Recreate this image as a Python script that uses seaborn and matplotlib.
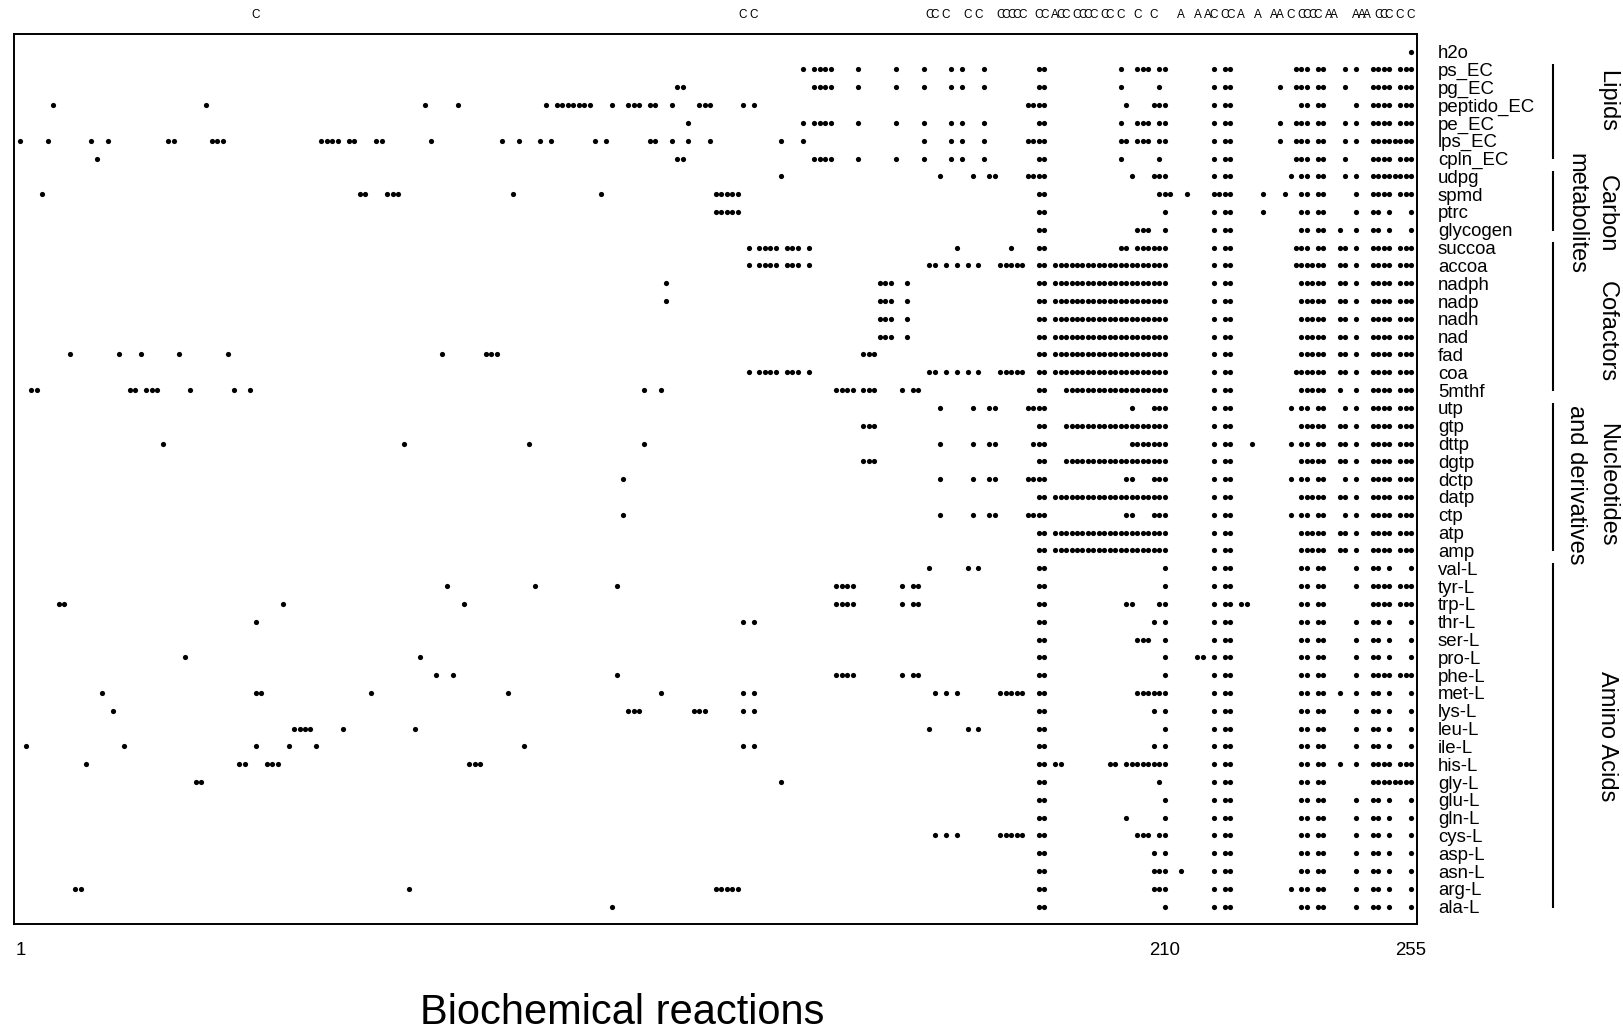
import matplotlib
matplotlib.use("Agg")
import matplotlib.pyplot as plt
import matplotlib.transforms as mtransforms
import seaborn as sns
import pandas as pd

sns.set_theme(style="white")
plt.rcParams['font.family'] = ['Liberation Sans', 'DejaVu Sans']
plt.rcParams['text.color'] = 'black'
plt.rcParams['xtick.color'] = 'black'
plt.rcParams['ytick.color'] = 'black'

# ---------------- data ----------------
metabolites = ["h2o", "ps_EC", "pg_EC", "peptido_EC", "pe_EC", "lps_EC", "cpln_EC",
               "udpg", "spmd", "ptrc", "glycogen", "succoa", "accoa", "nadph", "nadp",
               "nadh", "nad", "fad", "coa", "5mthf", "utp", "gtp", "dttp", "dgtp", "dctp",
               "datp", "ctp", "atp", "amp", "val-L", "tyr-L", "trp-L", "thr-L", "ser-L",
               "pro-L", "phe-L", "met-L", "lys-L", "leu-L", "ile-L", "his-L", "gly-L",
               "glu-L", "gln-L", "cys-L", "asp-L", "asn-L", "arg-L", "ala-L"]

x_tick_values = [1, 210, 255]
x_tick_labels = ["1", "210", "255"]

h2o = [255]
ps_EC = [144, 146, 147, 148, 149, 154, 161, 166, 171, 173, 177, 187, 188, 202, 205, 206, 207, 209, 210,
         219, 221, 222, 234, 235, 236, 238, 239, 243, 245, 248, 249, 250, 251, 253, 254, 255]
pg_EC = [121, 122, 146, 147, 148, 149, 154, 161, 166, 171, 173, 177, 187, 188, 202, 209,
         219, 221, 222, 231, 234, 235, 236, 238, 239, 243, 248, 249, 250, 251, 253, 254, 255]
peptido_EC = [7, 35, 75, 81, 97, 99, 100, 101, 102, 103, 104, 105, 109, 112, 113, 114, 116, 117, 120,
              125, 126, 127, 133, 135, 185, 186, 187, 188, 203, 208, 209, 210,
              219, 221, 222, 235, 236, 238, 239, 245, 248, 249, 250, 251, 253, 254, 255]
pe_EC = [123, 144, 146, 147, 148, 149, 154, 161, 166, 171, 173, 177, 187, 188, 202, 205, 206, 207, 209, 210,
         219, 221, 222, 231, 234, 235, 236, 238, 239, 243, 245, 248, 249, 250, 251, 253, 254, 255]
lps_EC = [1, 6, 14, 17, 28, 29, 36, 37, 38, 56, 57, 58, 59, 61, 62, 66, 67, 76, 89, 92, 96, 98, 106, 108,
          116, 117, 120, 123, 127, 140, 144, 166, 171, 173, 177, 185, 186, 187, 188, 202, 203, 205, 206,
          207, 209, 210, 219, 221, 222, 231, 234, 235, 236, 238, 239, 243, 245,
          248, 249, 250, 251, 252, 253, 254, 255]
cpln_EC = [15, 121, 122, 146, 147, 148, 149, 154, 161, 166, 171, 173, 177, 187, 188, 202, 209,
           219, 221, 222, 234, 235, 236, 238, 239, 243, 248, 249, 250, 251, 253, 254, 255]
udpg = [140, 169, 175, 178, 179, 185, 186, 187, 188, 204, 208, 209, 210, 219, 221, 222, 233, 235, 236,
        238, 239, 243, 245, 248, 249, 250, 251, 252, 253, 254, 255]
spmd = [5, 63, 64, 68, 69, 70, 91, 107, 128, 129, 130, 131, 132, 187, 188, 209, 210, 211, 214,
        219, 220, 221, 222, 228, 232, 235, 236, 238, 239, 245, 248, 249, 250, 251, 253, 254, 255]
ptrc = [128, 129, 130, 131, 132, 187, 188, 210, 219, 221, 222, 228, 235, 236, 238, 239, 245,
        248, 249, 251, 255]
glycogen = [187, 188, 205, 206, 207, 210, 219, 221, 222, 235, 236, 238, 239, 242, 245, 248, 249, 251, 255]
succoa = [134, 136, 137, 138, 139, 141, 142, 143, 145, 172, 182, 187, 188, 202, 203, 205, 206, 207, 208,
          209, 210, 219, 221, 222, 234, 235, 236, 238, 239, 242, 243, 245, 248, 249, 250, 251, 253, 254, 255]
accoa = [134, 136, 137, 138, 139, 141, 142, 143, 145, 167, 168, 170, 172, 174, 176, 180, 181, 182, 183, 184,
         187, 188, 190, 191, 192, 193, 194, 195, 196, 197, 198, 199, 200, 201, 202, 203, 204, 205, 206,
         207, 208, 209, 210, 219, 221, 222, 234, 235, 236, 237, 238, 239, 242, 243, 245,
         248, 249, 250, 251, 253, 254, 255]
nadph = [119, 158, 159, 160, 163, 187, 188, 190, 191, 192, 193, 194, 195, 196, 197, 198, 199, 200, 201,
         202, 203, 204, 205, 206, 207, 208, 209, 210, 219, 221, 222, 235, 236, 237, 238, 239, 242, 243,
         245, 248, 249, 250, 251, 253, 254, 255]
nadp = [119, 158, 159, 160, 163, 187, 188, 190, 191, 192, 193, 194, 195, 196, 197, 198, 199, 200, 201,
        202, 203, 204, 205, 206, 207, 208, 209, 210, 219, 221, 222, 235, 236, 237, 238, 239, 242, 243,
        245, 248, 249, 250, 251, 253, 254, 255]
nadh = [158, 159, 160, 163, 187, 188, 190, 191, 192, 193, 194, 195, 196, 197, 198, 199, 200, 201,
        202, 203, 204, 205, 206, 207, 208, 209, 210, 219, 221, 222, 235, 236, 237, 238, 239, 242, 243,
        245, 248, 249, 250, 251, 253, 254, 255]
nad = [158, 159, 160, 163, 187, 188, 190, 191, 192, 193, 194, 195, 196, 197, 198, 199, 200, 201,
       202, 203, 204, 205, 206, 207, 208, 209, 210, 219, 221, 222, 235, 236, 237, 238, 239, 242, 243,
       245, 248, 249, 250, 251, 253, 254, 255]
fad = [10, 19, 23, 30, 39, 78, 86, 87, 88, 155, 156, 157, 187, 188, 190, 191, 192, 193, 194, 195, 196,
       197, 198, 199, 200, 201, 202, 203, 204, 205, 206, 207, 208, 209, 210, 219, 221, 222, 235, 236,
       237, 238, 239, 242, 243, 245, 248, 249, 250, 251, 253, 254, 255]
coa = [134, 136, 137, 138, 139, 141, 142, 143, 145, 167, 168, 170, 172, 174, 176, 180, 181, 182, 183, 184,
       187, 188, 190, 191, 192, 193, 194, 195, 196, 197, 198, 199, 200, 201, 202, 203, 204, 205, 206,
       207, 208, 209, 210, 219, 221, 222, 234, 235, 236, 237, 238, 239, 242, 243, 245,
       248, 249, 250, 251, 253, 254, 255]
mthf5 = [3, 4, 21, 22, 24, 25, 26, 32, 40, 43, 115, 118, 150, 151, 152, 153, 155, 156, 157, 162, 164, 165,
         187, 188, 192, 193, 194, 195, 196, 197, 198, 199, 200, 201, 202, 203, 204, 205, 206, 207, 208,
         209, 210, 219, 221, 222, 235, 236, 237, 238, 239, 242, 245, 248, 249, 250, 251, 253, 254, 255]
utp = [169, 175, 178, 179, 185, 186, 187, 188, 204, 208, 209, 210, 219, 221, 222, 233, 235, 236, 238, 239,
       243, 245, 248, 249, 250, 251, 253, 254, 255]
gtp = [155, 156, 157, 187, 188, 192, 193, 194, 195, 196, 197, 198, 199, 200, 201, 202, 203, 204, 205,
       206, 207, 208, 209, 210, 219, 221, 222, 235, 236, 237, 238, 239, 242, 243, 245,
       248, 249, 250, 251, 253, 254, 255]
dttp = [27, 71, 94, 115, 169, 175, 178, 179, 186, 187, 188, 204, 205, 206, 207, 208, 209, 210,
        219, 221, 222, 226, 233, 235, 236, 238, 239, 242, 243, 245, 248, 249, 250, 251, 253, 254, 255]
dgtp = [155, 156, 157, 187, 188, 192, 193, 194, 195, 196, 197, 198, 199, 200, 201, 202, 203, 204, 205,
        206, 207, 208, 209, 210, 219, 221, 222, 235, 236, 237, 238, 239, 242, 243, 245,
        248, 249, 250, 251, 253, 254, 255]
dctp = [111, 169, 175, 178, 179, 185, 186, 187, 188, 203, 204, 208, 209, 210, 219, 221, 222, 233, 235,
        236, 238, 239, 243, 245, 248, 249, 250, 251, 253, 254, 255]
datp = [187, 188, 190, 191, 192, 193, 194, 195, 196, 197, 198, 199, 200, 201, 202, 203, 204, 205, 206,
        207, 208, 209, 210, 219, 221, 222, 235, 236, 237, 238, 239, 242, 243, 245,
        248, 249, 250, 251, 253, 254, 255]
ctp = [111, 169, 175, 178, 179, 185, 186, 187, 188, 203, 204, 208, 209, 210, 219, 221, 222, 233, 235,
       236, 238, 239, 243, 245, 248, 249, 250, 251, 253, 254, 255]
atp = [187, 188, 190, 191, 192, 193, 194, 195, 196, 197, 198, 199, 200, 201, 202, 203, 204, 205, 206,
       207, 208, 209, 210, 219, 221, 222, 235, 236, 237, 238, 239, 242, 243, 245,
       248, 249, 250, 251, 253, 254, 255]
amp = [187, 188, 190, 191, 192, 193, 194, 195, 196, 197, 198, 199, 200, 201, 202, 203, 204, 205, 206,
       207, 208, 209, 210, 219, 221, 222, 235, 236, 237, 238, 239, 242, 243, 245,
       248, 249, 250, 251, 253, 254, 255]
val_L = [167, 174, 176, 187, 188, 210, 219, 221, 222, 235, 236, 238, 239, 245, 248, 249, 251, 255]
tyr_L = [79, 95, 110, 150, 151, 152, 153, 162, 164, 165, 187, 188, 210, 219, 221, 222, 235, 236, 238, 239,
         245, 248, 249, 250, 251, 253, 254, 255]
trp_L = [8, 9, 49, 82, 150, 151, 152, 153, 162, 164, 165, 187, 188, 203, 204, 209, 210, 219, 221, 222,
         224, 225, 235, 236, 238, 239, 248, 249, 250, 251, 253, 254, 255]
thr_L = [44, 133, 135, 187, 188, 208, 210, 219, 221, 222, 235, 236, 238, 239, 245, 248, 249, 251, 255]
ser_L = [187, 188, 205, 206, 207, 210, 219, 221, 222, 235, 236, 238, 239, 245, 248, 249, 251, 255]
pro_L = [31, 74, 187, 188, 210, 216, 217, 219, 221, 222, 235, 236, 238, 239, 245, 248, 249, 251, 255]
phe_L = [77, 80, 110, 150, 151, 152, 153, 162, 164, 165, 187, 188, 210, 219, 221, 222, 235, 236, 238, 239,
         245, 248, 249, 250, 251, 253, 254, 255]
met_L = [16, 44, 45, 65, 90, 118, 133, 135, 168, 170, 172, 180, 181, 182, 183, 184, 187, 188, 205, 206,
         207, 208, 209, 210, 219, 221, 222, 235, 236, 238, 239, 242, 245, 248, 249, 251, 255]
lys_L = [18, 112, 113, 114, 124, 125, 126, 133, 135, 187, 188, 208, 210, 219, 221, 222, 235, 236, 238, 239,
         245, 248, 249, 251, 255]
leu_L = [51, 52, 53, 54, 60, 73, 167, 174, 176, 187, 188, 210, 219, 221, 222, 235, 236, 238, 239, 245,
         248, 249, 251, 255]
ile_L = [2, 20, 44, 50, 55, 93, 133, 135, 187, 188, 208, 210, 219, 221, 222, 235, 236, 238, 239, 245,
         248, 249, 251, 255]
his_L = [13, 41, 42, 46, 47, 48, 83, 84, 85, 187, 188, 190, 191, 200, 201, 203, 204, 205, 206, 207, 208,
         209, 210, 219, 221, 222, 235, 236, 238, 239, 242, 245, 248, 249, 250, 251, 253, 254, 255]
gly_L = [33, 34, 140, 187, 188, 209, 219, 221, 222, 235, 236, 238, 239, 248, 249, 250, 251, 252, 253,
         254, 255]
glu_L = [187, 188, 210, 219, 221, 222, 235, 236, 238, 239, 245, 248, 249, 251, 255]
gln_L = [187, 188, 203, 210, 219, 221, 222, 235, 236, 238, 239, 245, 248, 249, 251, 255]
cys_L = [168, 170, 172, 180, 181, 182, 183, 184, 187, 188, 205, 206, 207, 209, 210, 219, 221, 222, 235,
         236, 238, 239, 245, 248, 249, 251, 255]
asp_L = [187, 188, 208, 210, 219, 221, 222, 235, 236, 238, 239, 245, 248, 249, 251, 255]
asn_L = [187, 188, 208, 209, 210, 213, 219, 221, 222, 235, 236, 238, 239, 245, 248, 249, 251, 255]
arg_L = [11, 12, 72, 128, 129, 130, 131, 132, 187, 188, 208, 209, 210, 219, 221, 222, 233, 235, 236,
         238, 239, 245, 248, 249, 251, 255]
ala_L = [109, 187, 188, 210, 219, 221, 222, 235, 236, 238, 239, 245, 248, 249, 251, 255]

# column annotations along the top (reaction index, letter)
top_letter_cols = [44, 133, 135, 167, 168, 170, 174, 176, 180, 181, 182, 183, 184,
                   187, 188, 190, 191, 192, 194, 195, 196, 197, 199, 200, 202, 205, 208,
                   213, 216, 218, 219, 221, 222, 224, 227, 230, 231, 233,
                   235, 236, 237, 238, 240, 241, 245, 246, 247, 249, 250, 251, 253, 255]
top_letter_text = ["C", "C", "C", "C", "C", "C", "C", "C", "C", "C", "C", "C", "C",
                   "C", "C", "A", "C", "C", "C", "C", "C", "C", "C", "C", "C", "C", "C",
                   "A", "A", "A", "C", "C", "C", "A", "A", "A", "A", "C",
                   "C", "C", "C", "C", "A", "A", "A", "A", "A", "C", "C", "C", "C", "C"]

# metabolite groups (first row name, last row name)
group_labels = [["Lipids"], ["Carbon", "metabolites"], ["Cofactors"],
                ["Nucleotides", "and derivatives"], ["Amino Acids"]]
group_first = ["ps_EC", "udpg", "succoa", "utp", "val-L"]
group_last = ["cpln_EC", "glycogen", "5mthf", "amp", "ala-L"]
group_label_rows = [2.75, 9.1, 15.7, 24.3, 38.4]

row_lists = [h2o, ps_EC, pg_EC, peptido_EC, pe_EC, lps_EC, cpln_EC, udpg, spmd, ptrc, glycogen,
             succoa, accoa, nadph, nadp, nadh, nad, fad, coa, mthf5, utp, gtp, dttp, dgtp, dctp,
             datp, ctp, atp, amp, val_L, tyr_L, trp_L, thr_L, ser_L, pro_L, phe_L, met_L, lys_L,
             leu_L, ile_L, his_L, gly_L, glu_L, gln_L, cys_L, asp_L, asn_L, arg_L, ala_L]

records = []
for i, (name, cols) in enumerate(zip(metabolites, row_lists)):
    for c in cols:
        records.append({"reaction": c, "metabolite": name, "row": i})
df = pd.DataFrame(records)

# ---------------- figure ----------------
W, H = 1623, 1035
fig = plt.figure(figsize=(W / 100, H / 100), dpi=100)
ax_l, ax_r, ax_t, ax_b = 14.3, 1417, 34, 924
ax = fig.add_axes([ax_l / W, 1 - ax_b / H, (ax_r - ax_l) / W, (ax_b - ax_t) / H])

sns.scatterplot(data=df, x="reaction", y="row", ax=ax, color="black", s=14,
                linewidth=0, marker="o", legend=False)

ax.set_xlim(-0.1, 256.1)
ax.set_ylim(48.97, -0.99)
ax.set_xlabel("")
ax.set_ylabel("")
ax.set_xticks(x_tick_values)
ax.set_xticklabels(x_tick_labels, fontsize=13.4)
ax.set_yticks(range(len(metabolites)))
ax.set_yticklabels(metabolites, fontsize=13.4)
ax.yaxis.tick_right()
ax.tick_params(axis="y", length=0, pad=15)
ax.tick_params(axis="x", length=0, pad=13)
for sp in ax.spines.values():
    sp.set_visible(True)
    sp.set_color("black")
    sp.set_linewidth(1.4)
ax.grid(False)

# top annotations
trans_top = mtransforms.blended_transform_factory(ax.transData, ax.transAxes)
for c, t in zip(top_letter_cols, top_letter_text):
    ax.text(c, 1.0215, t, transform=trans_top, ha="center", va="center", fontsize=8.5)

# group brackets and labels
trans_grp = mtransforms.blended_transform_factory(ax.transAxes, ax.transData)
bar_x = (1553 - ax_l) / (ax_r - ax_l)
lab_x1 = (1607 - ax_l) / (ax_r - ax_l)
lab_x2 = (1576 - ax_l) / (ax_r - ax_l)
for lines, first, last, ly in zip(group_labels, group_first, group_last, group_label_rows):
    r0 = metabolites.index(first)
    r1 = metabolites.index(last)
    ax.plot([bar_x, bar_x], [r0 - 0.3, r1 + 0.05], transform=trans_grp, color="black",
            lw=1.5, clip_on=False, solid_capstyle="butt")
    ax.text(lab_x1, ly, lines[0], transform=trans_grp, rotation=270, ha="center",
            va="center", fontsize=17, rotation_mode="anchor")
    if len(lines) > 1:
        ax.text(lab_x2, ly, lines[1], transform=trans_grp, rotation=270, ha="center",
                va="center", fontsize=17, rotation_mode="anchor")

fig.text(622 / W, 1 - 1024 / H, "Biochemical reactions", ha="center", va="baseline", fontsize=30)

fig.savefig("out.png", dpi=100)
